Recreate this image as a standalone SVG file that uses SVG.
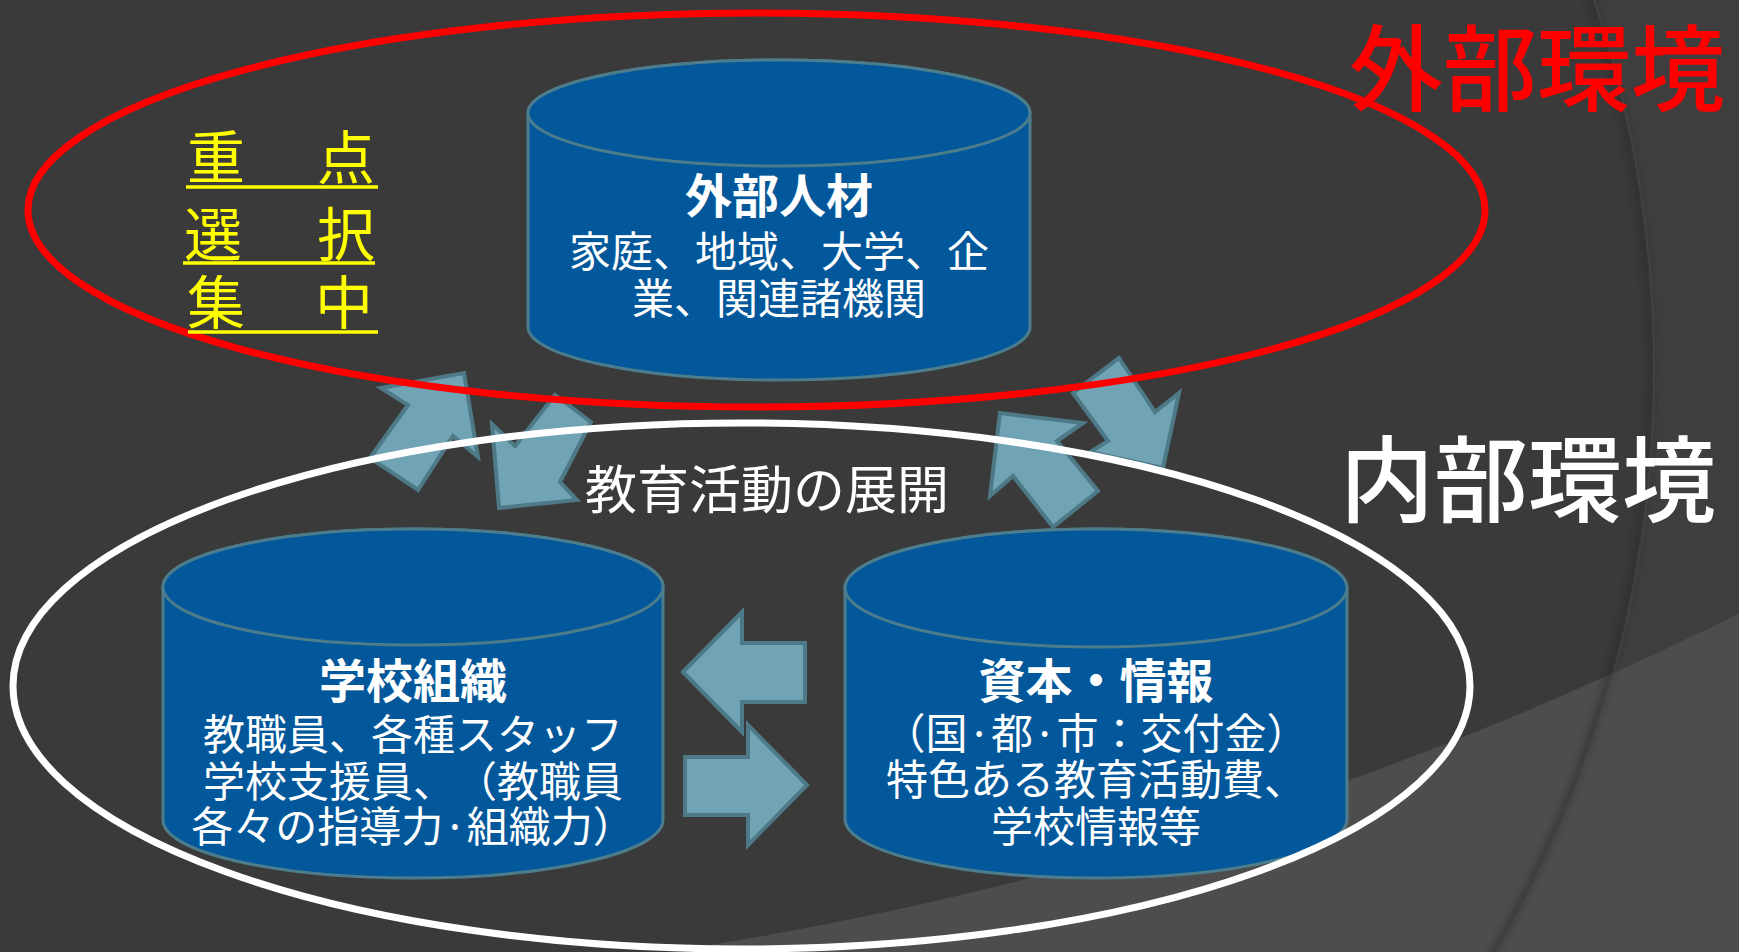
<svg xmlns="http://www.w3.org/2000/svg" width="1739" height="952" viewBox="0 0 1739 952">
<defs>
<style>
text{text-spacing-trim:space-all;font-kerning:none;font-feature-settings:"halt" 0,"chws" 0,"palt" 0}
.cyl{fill:#02589a;stroke:#4d7d8c;stroke-width:3}
.arr{fill:#70a3b4;stroke:#4e7987;stroke-width:4;stroke-linejoin:miter}
.t{font-family:"Noto Sans CJK JP","Noto Sans CJK SC",sans-serif;fill:#ffffff;text-anchor:middle}
.tt{font-size:47px;font-weight:bold}
.ts{font-size:42px}
.y{font-family:"Noto Sans CJK JP","Noto Sans CJK SC",sans-serif;fill:#ffff00;font-size:58px}
.ul{stroke:#ffff00;stroke-width:3.5}
.big{font-family:"Noto Sans CJK JP","Noto Sans CJK SC",sans-serif;font-size:94px;font-weight:500}
</style>
<filter id="soft" x="-10%" y="-10%" width="120%" height="120%"><feGaussianBlur stdDeviation="3"/></filter>
</defs>
<g id="background">
<rect width="1739" height="952" fill="#3e3e3e"/>
<circle cx="487" cy="369" r="1166" fill="#3a3a3a"/>
<path d="M0 0H1739V952H0Z M-3450 -2596a3587 3587 0 1 0 7174 0a3587 3587 0 1 0 -7174 0Z" fill="#4d4d4d" fill-rule="evenodd"/>
<circle cx="487" cy="369" r="1163" fill="none" stroke="#2c2c2c" stroke-width="5" opacity="0.7" filter="url(#soft)"/>
<circle cx="487" cy="369" r="1167" fill="none" stroke="#4a4a4a" stroke-width="1.5" opacity="0.7"/>
</g>
<g id="connectors">
<polygon class="arr" points="381,388 464,373 478,457 453,436 418,490 370,458 408,405"/>
<polygon class="arr" points="492,424 515,446 555,395 591,422 560,482 577,500 499,508"/>
<polygon class="arr" points="1000,413 1083,423 1057,441 1098,491 1053,527 1013,476 990,496"/>
<polygon class="arr" points="1119,358 1155,412 1179,393 1163,468 1090,452 1108,441 1073,393"/>
<polygon class="arr" points="683,672 742,612 742,643 805,643 805,702 742,702 742,732"/>
<polygon class="arr" points="685,757 748,757 748,725 807,785 748,845 748,815 685,815"/>
</g>
<g id="node-external">
<path class="cyl" d="M528 113V327A251 53 0 0 0 1030 327V113A251 53 0 0 0 528 113Z"/>
<ellipse class="cyl" cx="779" cy="113" rx="251" ry="53"/>
<text class="t tt" x="779" y="213">外部人材</text>
<text class="t ts" x="779" y="267">家庭、地域、大学、企</text>
<text class="t ts" x="779" y="314">業、関連諸機関</text>
</g>
<g id="node-school">
<path class="cyl" d="M163 587V820A250 58 0 0 0 663 820V587A250 58 0 0 0 163 587Z"/>
<ellipse class="cyl" cx="413" cy="587" rx="250" ry="58"/>
<text class="t tt" x="413" y="698">学校組織</text>
<text class="t ts" x="413" y="750">教職員、各種スタッフ</text>
<text class="t ts" x="413" y="797">学校支援員、（教職員</text>
<text class="t ts" x="413" y="842">各々の指導力·組織力）</text>
</g>
<g id="node-capital">
<path class="cyl" d="M845 588V819A251 59 0 0 0 1347 819V588A251 59 0 0 0 845 588Z"/>
<ellipse class="cyl" cx="1096" cy="588" rx="251" ry="59"/>
<text class="t tt" x="1096" y="698">資本・情報</text>
<text class="t ts" x="1096" y="749">（国·都·市：交付金）</text>
<text class="t ts" x="1096" y="795">特色ある教育活動費、</text>
<text class="t ts" x="1096" y="842">学校情報等</text>
</g>
<g id="node-outer-env">
<ellipse cx="756.5" cy="210" rx="728.5" ry="197" fill="none" stroke="#ff0000" stroke-width="7"/>
<text class="big" x="1349" y="104" fill="#ff0000">外部環境</text>
</g>
<g id="node-inner-env">
<ellipse cx="741.5" cy="686" rx="728.5" ry="263" fill="none" stroke="#ffffff" stroke-width="7"/>
<text class="big" x="1340" y="515" fill="#ffffff">内部環境</text>
<text class="t" x="767" y="509" font-size="52px">教育活動の展開</text>
</g>
<g id="node-focus">
<text class="y" x="187" y="179" textLength="188" lengthAdjust="spacing">重点</text>
<line class="ul" x1="186" y1="187" x2="378" y2="187"/>
<text class="y" x="184" y="256" textLength="191" lengthAdjust="spacing">選択</text>
<line class="ul" x1="183" y1="263" x2="375" y2="263"/>
<text class="y" x="187" y="324" textLength="186" lengthAdjust="spacing">集中</text>
<line class="ul" x1="188" y1="332" x2="378" y2="332"/>
</g>
</svg>
